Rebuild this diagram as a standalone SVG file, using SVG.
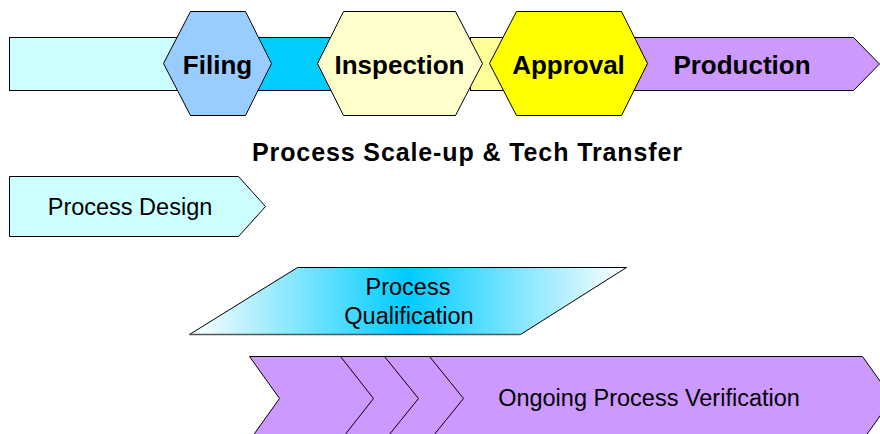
<svg xmlns="http://www.w3.org/2000/svg" width="880" height="434" viewBox="0 0 880 434">
  <defs>
    <linearGradient id="qualGrad" x1="0" y1="0" x2="1" y2="0">
      <stop offset="0" stop-color="#FFFFFF"/>
      <stop offset="0.5" stop-color="#00CCFF"/>
      <stop offset="1" stop-color="#FFFFFF"/>
    </linearGradient>
  </defs>
  <style>
    .shape { stroke: #000000; stroke-width: 1; stroke-linejoin: miter; }
    .bold { font-family: "Liberation Sans", Arial, sans-serif; font-weight: bold; font-size: 26px; fill: #000000; text-anchor: middle; }
    .title { font-family: "Liberation Sans", Arial, sans-serif; font-weight: bold; font-size: 25px; fill: #000000; text-anchor: middle; }
    .label { font-family: "Liberation Sans", Arial, sans-serif; font-size: 23.5px; fill: #000000; text-anchor: middle; }
  </style>
  <rect width="880" height="434" fill="#FFFFFF"/>

  <!-- top band -->
  <g id="band">
    <rect class="shape" x="9.5" y="37.5" width="180" height="53" fill="#CCFFFF"/>
    <rect class="shape" x="240.5" y="37.5" width="100" height="53" fill="#00CCFF"/>
    <rect class="shape" x="470.5" y="37.5" width="40" height="53" fill="#FFFF99"/>
  </g>
  <g id="production">
    <polygon class="shape" points="630.5,37.5 853.5,37.5 879.5,64 853.5,90.5 630.5,90.5" fill="#CC99FF"/>
    <text class="bold" x="742" y="74">Production</text>
  </g>
  <g id="filing">
    <polygon class="shape" points="163.5,63.5 190.5,11.5 245.5,11.5 271.5,63.5 245.5,115.5 190.5,115.5" fill="#99CCFF"/>
    <text class="bold" x="217.5" y="74">Filing</text>
  </g>
  <g id="inspection">
    <polygon class="shape" points="317.5,63.5 343.5,11.5 455.5,11.5 482.5,63.5 455.5,115.5 343.5,115.5" fill="#FFFFCC"/>
    <text class="bold" x="399.5" y="74">Inspection</text>
  </g>
  <g id="approval">
    <polygon class="shape" points="489.5,63.5 516.5,11.5 621.5,11.5 647.5,63.5 621.5,115.5 516.5,115.5" fill="#FFFF00"/>
    <text class="bold" x="568.5" y="74">Approval</text>
  </g>

  <g id="title">
    <text class="title" x="467" y="161" textLength="430" lengthAdjust="spacing">Process Scale-up &amp; Tech Transfer</text>
  </g>

  <g id="process-design">
    <polygon class="shape" points="9.5,176.5 238.5,176.5 265.5,206.5 238.5,236.5 9.5,236.5" fill="#CCFFFF"/>
    <text class="label" x="130" y="215">Process Design</text>
  </g>

  <g id="process-qualification">
    <polygon class="shape" points="297.5,267.5 626.5,267.5 520.5,334.5 189.5,334.5" fill="url(#qualGrad)"/>
    <line x1="189.5" y1="334.5" x2="520.5" y2="334.5" stroke="#555555" stroke-width="1.5"/>
    <text class="label" x="408" y="295">Process</text>
    <text class="label" x="409" y="324">Qualification</text>
  </g>

  <g id="ongoing-verification">
    <polygon class="shape" points="249.5,356.5 862.5,356.5 892.5,398.5 862.5,440.5 249.5,440.5 279.5,398.5" fill="#CC99FF"/>
    <polyline class="shape" points="340.5,356.5 373.5,398.5 340.5,440.5" fill="none"/>
    <polyline class="shape" points="384.5,356.5 418.5,398.5 384.5,440.5" fill="none"/>
    <polyline class="shape" points="429.5,356.5 463.5,398.5 429.5,440.5" fill="none"/>
    <text class="label" x="649" y="406">Ongoing Process Verification</text>
  </g>

  <g id="connectors"/>
</svg>
